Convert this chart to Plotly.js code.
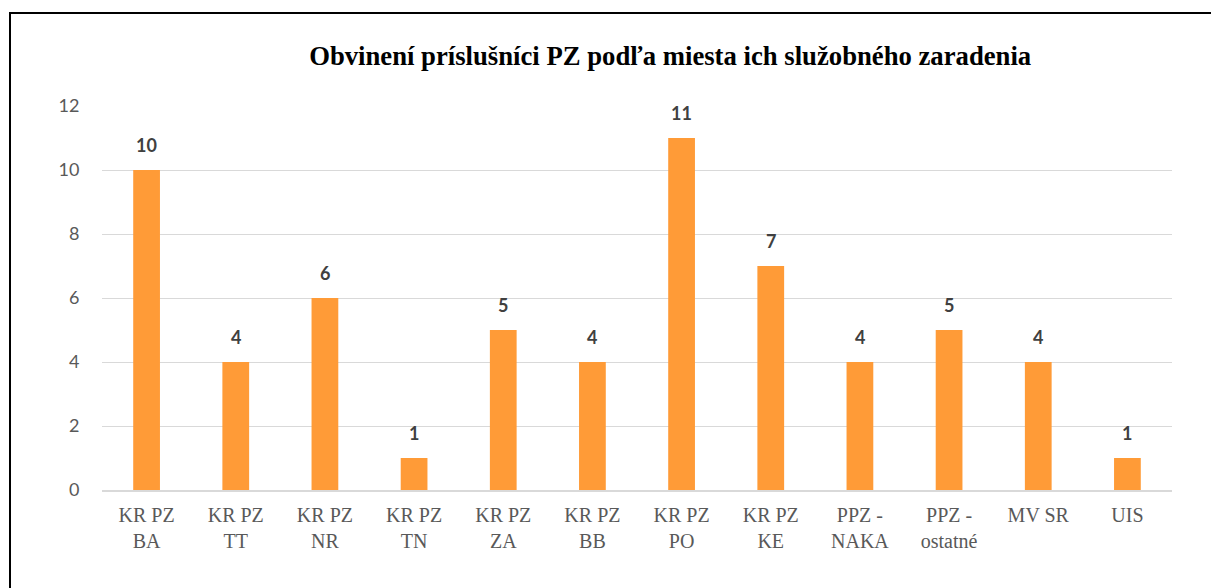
<!DOCTYPE html>
<html>
<head>
<meta charset="utf-8">
<script src="https://cdn.plot.ly/plotly-3.0.1.min.js"></script>
<style>
html,body{margin:0;padding:0;overflow:hidden;background:#fff;}
#chart{width:1211px;height:588px;position:absolute;left:0;top:0;}
#frame{position:absolute;left:9px;top:12px;width:1240px;height:620px;border:2px solid #000;pointer-events:none;box-sizing:border-box;}
</style>
</head>
<body>
<div id="chart"></div>
<div id="frame"></div>
<script>
const categories = ["KR PZ<br>BA","KR PZ<br>TT","KR PZ<br>NR","KR PZ<br>TN","KR PZ<br>ZA","KR PZ<br>BB","KR PZ<br>PO","KR PZ<br>KE","PPZ -<br>NAKA","PPZ -<br>ostatné","MV SR","UIS"];
const values = [10,4,6,1,5,4,11,7,4,5,4,1];
const yTicks = [0,2,4,6,8,10,12];
const chartTitle = "Obvinení príslušníci PZ podľa miesta ich služobného zaradenia";

const trace = {
  type: "bar",
  x: categories,
  y: values,
  marker: {color: "#FF9B37"},
  hoverinfo: "none"
};

const labelAnnotations = categories.map((c, i) => ({
  x: c, y: values[i], xref: "x", yref: "y",
  text: "<b>" + values[i] + "</b>",
  showarrow: false, yanchor: "bottom", yshift: 12,
  font: {family: "Lato, 'Liberation Sans', sans-serif", size: 18, color: "#404040"}
}));

const layout = {
  width: 1211, height: 588,
  margin: {l: 102, r: 39, t: 106, b: 98},
  paper_bgcolor: "#fff", plot_bgcolor: "#fff",
  bargap: 0.7,
  showlegend: false,
  title: {
    text: "<b>" + chartTitle + "</b>",
    font: {family: "'Liberation Serif', 'Times New Roman', serif", size: 26.7, color: "#000"},
    xref: "paper", x: 0.531, xanchor: "center",
    yref: "container", y: 1 - 56/588, yanchor: "middle"
  },
  annotations: labelAnnotations,
  xaxis: {
    type: "category",
    showgrid: false,
    showline: true, linecolor: "#D9D9D9", linewidth: 2,
    ticks: "outside", ticklen: 6, tickcolor: "rgba(0,0,0,0)",
    tickfont: {family: "'Liberation Serif', 'Times New Roman', serif", size: 20, color: "#595959"},
    fixedrange: true
  },
  yaxis: {
    range: [0, 12],
    tickvals: yTicks,
    ticktext: yTicks.map(String),
    showgrid: true, gridcolor: "#D9D9D9", gridwidth: 1,
    zeroline: false, showline: false,
    ticks: "outside", ticklen: 18, tickcolor: "rgba(0,0,0,0)",
    tickfont: {family: "Lato, 'Liberation Sans', sans-serif", size: 18, color: "#595959"},
    fixedrange: true
  }
};

Plotly.newPlot("chart", [trace], layout, {displayModeBar: false, staticPlot: true});
</script>
</body>
</html>
